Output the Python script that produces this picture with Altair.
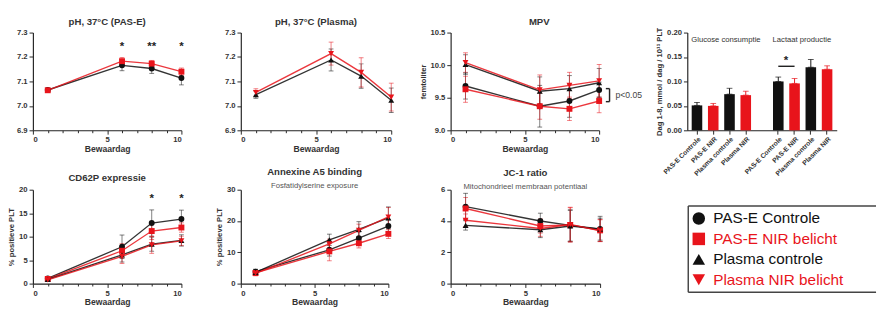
import altair as alt
import pandas as pd

FONT = "Liberation Sans"
RED = "#e8141b"
BLACK = "#111111"

days = [1, 6, 8, 10]
series = ["PAS-E Controle", "PAS-E NIR belicht", "Plasma controle", "Plasma NIR belicht"]
series_colors = [BLACK, RED, BLACK, RED]
series_shapes = ["circle", "square", "triangle-up", "triangle-down"]

# pH 37C PAS-E
ph_pase_val = {"PAS-E Controle": [7.065, 7.166, 7.153, 7.114],
               "PAS-E NIR belicht": [7.064, 7.183, 7.173, 7.140]}
ph_pase_err = {"PAS-E Controle": [0.005, 0.022, 0.020, 0.028],
               "PAS-E NIR belicht": [0.004, 0.015, 0.013, 0.015]}
ph_pase_stars_days = [6, 8, 10]
ph_pase_stars = ["*", "**", "*"]

# pH 37C Plasma
ph_plasma_val = {"Plasma controle": [7.046, 7.188, 7.122, 7.023],
                 "Plasma NIR belicht": [7.055, 7.214, 7.137, 7.036]}
ph_plasma_err = {"Plasma controle": [0.015, 0.045, 0.050, 0.050],
                 "Plasma NIR belicht": [0.015, 0.047, 0.060, 0.057]}

# MPV
mpv_val = {"PAS-E Controle": [9.68, 9.37, 9.45, 9.62],
           "PAS-E NIR belicht": [9.63, 9.37, 9.33, 9.45],
           "Plasma controle": [10.01, 9.60, 9.64, 9.73],
           "Plasma NIR belicht": [10.04, 9.62, 9.69, 9.76]}
mpv_err = {"PAS-E Controle": [0.20, 0.32, 0.25, 0.12],
           "PAS-E NIR belicht": [0.20, 0.20, 0.18, 0.18],
           "Plasma controle": [0.15, 0.22, 0.20, 0.22],
           "Plasma NIR belicht": [0.15, 0.23, 0.20, 0.25]}
mpv_sig_range = [9.44, 9.64]
mpv_sig_text = "p<0.05"

# CD62P
cd62p_val = {"PAS-E Controle": [1.1, 7.85, 12.9, 13.75],
             "PAS-E NIR belicht": [1.0, 7.0, 11.2, 11.95],
             "Plasma controle": [0.9, 6.1, 8.4, 9.2],
             "Plasma NIR belicht": [0.8, 5.8, 8.25, 9.1]}
cd62p_err = {"PAS-E Controle": [0.3, 2.5, 2.8, 1.9],
             "PAS-E NIR belicht": [0.3, 1.5, 1.8, 1.0],
             "Plasma controle": [0.3, 1.5, 1.5, 1.2],
             "Plasma NIR belicht": [0.3, 1.5, 1.8, 1.0]}
cd62p_stars_days = [8, 10]
cd62p_stars = ["*", "*"]

# Annexine A5
anx_val = {"PAS-E Controle": [3.8, 10.8, 14.5, 18.4],
           "PAS-E NIR belicht": [3.4, 10.3, 12.9, 15.9],
           "Plasma controle": [3.6, 14.0, 17.3, 21.0],
           "Plasma NIR belicht": [3.3, 12.7, 17.0, 21.3]}
anx_err = {"PAS-E Controle": [0.8, 2.0, 2.0, 2.0],
           "PAS-E NIR belicht": [0.8, 3.0, 1.5, 1.5],
           "Plasma controle": [0.8, 1.8, 2.5, 3.5],
           "Plasma NIR belicht": [0.8, 1.5, 2.0, 3.0]}

# JC-1
jc1_val = {"PAS-E Controle": [4.92, 4.0, 3.72, 3.5],
           "PAS-E NIR belicht": [4.8, 3.68, 3.75, 3.4],
           "Plasma controle": [3.72, 3.44, 3.68, 3.48],
           "Plasma NIR belicht": [4.05, 3.52, 3.78, 3.38]}
jc1_err = {"PAS-E Controle": [0.85, 0.5, 1.0, 0.8],
           "PAS-E NIR belicht": [0.7, 0.45, 1.1, 0.7],
           "Plasma controle": [0.3, 0.5, 1.0, 0.7],
           "Plasma NIR belicht": [0.4, 0.5, 1.1, 0.7]}

# Bars: glucose consumption / lactate production
bar_labels = ["PAS-E Controle", "PAS-E NIR", "Plasma controle", "Plasma NIR"]
bar_treat = ["controle", "NIR", "controle", "NIR"]
glucose_val = [0.051, 0.050, 0.074, 0.072]
glucose_err = [0.006, 0.005, 0.012, 0.008]
lactate_val = [0.100, 0.096, 0.129, 0.125]
lactate_err = [0.009, 0.010, 0.016, 0.007]
group_names = ["Glucose consumptie", "Lactaat productie"]
bar_sig_y = 0.131


def frame(vals, errs):
    rows = []
    for s in vals:
        for d, v, e in zip(days, vals[s], errs[s]):
            rows.append({"series": s, "day": d, "value": v, "lo": v - e, "hi": v + e})
    return pd.DataFrame(rows)


color_enc = alt.Color("series:N", scale=alt.Scale(domain=series, range=series_colors), legend=None)
shape_enc = alt.Shape("series:N", scale=alt.Scale(domain=series, range=series_shapes), legend=None)


def line_panel(df, title, ydom, yvals, yfmt, ytitle, w, h, xrange=None, extras=()):
    sc = dict(domain=[0, 10], nice=False, zero=False)
    if xrange is not None:
        sc["range"] = xrange
    xaxis = alt.Axis(values=list(range(11)), tickCount=11,
                     labelExpr="datum.value % 5 == 0 ? datum.label : ''",
                     tickSize={"condition": {"test": "datum.value % 5 == 0", "value": 4}, "value": 2.5},
                     title="Bewaardag", labelOverlap=False)

    def X(field="day"):
        return alt.X(f"{field}:Q", scale=alt.Scale(**sc), axis=xaxis)

    yaxis = alt.Axis(values=yvals, tickCount=len(yvals), format=yfmt, title=ytitle,
                     labelOverlap=False, labelSeparation=0)
    ysc = alt.Scale(domain=ydom, nice=False, zero=False)

    base = alt.Chart(df)
    err = base.mark_errorbar(ticks={"size": 5}, opacity=0.55, thickness=1).encode(
        x=X(), y=alt.Y("lo:Q", scale=ysc, axis=yaxis), y2="hi:Q", color=color_enc)
    line = base.mark_line(strokeWidth=1.4, opacity=0.85).encode(
        x=X(), y=alt.Y("value:Q", scale=ysc, axis=yaxis), color=color_enc, detail="series:N")
    pts = base.mark_point(filled=True, size=38, opacity=1).encode(
        x=X(), y=alt.Y("value:Q", scale=ysc, axis=yaxis), color=color_enc, shape=shape_enc)
    layers = [err, line, pts] + [f(X, ysc, yaxis) for f in extras]
    return alt.layer(*layers).properties(width=w, height=h, title=title)


def stars_layer(sdays, stars, yv):
    def f(X, ysc, yaxis):
        sdf = pd.DataFrame({"day": sdays, "txt": stars})
        return alt.Chart(sdf).mark_text(fontSize=12, fontWeight="bold", color="#222").encode(
            x=X(), y=alt.datum(yv), text="txt:N")
    return f


def mpv_bracket(X, ysc, yaxis):
    lo, hi = mpv_sig_range
    bdf = pd.DataFrame({"day": [10.7, 10.45, 10.45], "d2": [10.7, 10.7, 10.7],
                        "y": [lo, hi, lo], "y2": [hi, hi, lo]})
    rules = alt.Chart(bdf).mark_rule(color="#222", strokeWidth=1.5).encode(
        x=X(), x2="d2:Q", y=alt.Y("y:Q", scale=ysc, axis=yaxis), y2="y2:Q")
    tdf = pd.DataFrame({"day": [11.1], "y": [(lo + hi) / 2], "txt": [mpv_sig_text]})
    txt = alt.Chart(tdf).mark_text(align="left", fontSize=9, color="#444").encode(
        x=X(), y=alt.Y("y:Q", scale=ysc, axis=yaxis), text="txt:N")
    return alt.layer(rules, txt)


def T(t, off, sub=None):
    if sub:
        return alt.Title(t, subtitle=sub, offset=off, anchor="middle")
    return alt.Title(t, offset=off, anchor="middle")


TOP_H = 102
BOT_H = 98

p1 = line_panel(frame(ph_pase_val, ph_pase_err), T("pH, 37°C (PAS-E)", 2),
                [6.9, 7.3], [6.9, 7.0, 7.1, 7.2, 7.3], ".1f", None, 155, TOP_H,
                extras=[stars_layer(ph_pase_stars_days, ph_pase_stars, 7.245)])
p2 = line_panel(frame(ph_plasma_val, ph_plasma_err), T("pH, 37°C (Plasma)", 2),
                [6.9, 7.3], [6.9, 7.0, 7.1, 7.2, 7.3], ".1f", None, 157, TOP_H)
p3 = line_panel(frame(mpv_val, mpv_err), T("MPV", 2),
                [9.0, 10.5], [9.0, 9.5, 10.0, 10.5], ".1f", "femtoliter", 185, TOP_H,
                xrange=[0, 155], extras=[mpv_bracket])

# Bar chart
bar_rows = []
for gi, (g, vals, errs) in enumerate([(group_names[0], glucose_val, glucose_err),
                                     (group_names[1], lactate_val, lactate_err)]):
    for lab, tr, v, e in zip(bar_labels, bar_treat, vals, errs):
        bar_rows.append({"key": ("G:" if gi == 0 else "L:") + lab, "group": g,
                         "treat": tr, "value": v, "hi": v + e})
bdf = pd.DataFrame(bar_rows)
bar_keys = list(bdf["key"])
bar_domain = bar_keys[:4] + ["gap"] + bar_keys[4:]

bx_axis = alt.Axis(values=bar_keys, labelExpr="slice(datum.value, 2)", labelAngle=-45,
                   title=None, labelFontSize=7, labelPadding=1)
bx_scale = alt.Scale(domain=bar_domain, paddingInner=0.35, paddingOuter=0.27)
by_scale = alt.Scale(domain=[0, 0.2], nice=False)
by_vals = [0, 0.05, 0.10, 0.15, 0.20]
by_axis = alt.Axis(values=by_vals, tickCount=len(by_vals), format=".2f", labelOverlap=False,
                   labelSeparation=0, title="Dag 1-8, mmol / dag / 10¹¹ PLT")
bcolor = alt.Color("treat:N", scale=alt.Scale(domain=["controle", "NIR"], range=[BLACK, RED]), legend=None)

bar_base = alt.Chart(bdf)
b_err = bar_base.mark_errorbar(ticks={"size": 6}, thickness=1).encode(
    x=alt.X("key:N", scale=bx_scale, axis=bx_axis),
    y=alt.Y("value:Q", scale=by_scale, axis=by_axis), y2="hi:Q", color=bcolor)
b_bar = bar_base.mark_bar().encode(
    x=alt.X("key:N", scale=bx_scale, axis=bx_axis),
    y=alt.Y("value:Q", scale=by_scale, axis=by_axis), color=bcolor)
gdf = pd.DataFrame({"key": [bar_keys[0], bar_keys[4]], "txt": group_names})
b_grp = alt.Chart(gdf).mark_text(align="left", dx=-6, fontSize=8, fill="#333333").encode(
    x=alt.X("key:N", scale=bx_scale, axis=bx_axis), y=alt.datum(0.184), text="txt:N")
sdf = pd.DataFrame({"key": [bar_keys[4]], "key2": [bar_keys[5]], "y": [bar_sig_y]})
b_sig = alt.Chart(sdf).mark_rule(color="#222", strokeWidth=1.5).encode(
    x=alt.X("key:N", scale=bx_scale, axis=bx_axis), x2="key2:N",
    y=alt.Y("y:Q", scale=by_scale, axis=by_axis))
b_star = alt.Chart(sdf).mark_text(fontSize=12, fontWeight="bold", dx=8, dy=-6, color="#222").encode(
    x=alt.X("key:N", scale=bx_scale, axis=bx_axis),
    y=alt.Y("y:Q", scale=by_scale, axis=by_axis), text=alt.value("*"))
p4 = alt.layer(b_err, b_bar, b_grp, b_sig, b_star).properties(width=156, height=TOP_H)

p5 = line_panel(frame(cd62p_val, cd62p_err), T("CD62P expressie", 3),
                [0, 20], [0, 5, 10, 15, 20], "d", "% positieve PLT", 155, BOT_H,
                extras=[stars_layer(cd62p_stars_days, cd62p_stars, 18.3)])
p6 = line_panel(frame(anx_val, anx_err), T("Annexine A5 binding", -4, "Fosfatidylserine exposure"),
                [0, 30], [0, 10, 20, 30], "d", "% positieve PLT", 154, BOT_H)
p7 = line_panel(frame(jc1_val, jc1_err), T("JC-1 ratio", -5, "Mitochondrieel membraan potentiaal"),
                [0, 6], [0, 2, 4, 6], "d", None, 156, BOT_H)

# Legend panel
ldf = pd.DataFrame({"series": series})
ly = alt.Y("series:N", scale=alt.Scale(type="point", domain=series, range=[30, 94], padding=0), axis=None)
box_df = pd.DataFrame({"side": ["top"]})
l_top = alt.Chart(box_df).mark_rule(color="#444", strokeWidth=1.5).encode(
    x=alt.value(1), x2=alt.value(197), y=alt.value(17))
l_bot = alt.Chart(box_df).mark_rule(color="#444", strokeWidth=1.5).encode(
    x=alt.value(1), x2=alt.value(197), y=alt.value(107))
l_left = alt.Chart(box_df).mark_rule(color="#444", strokeWidth=1.5).encode(
    x=alt.value(1), y=alt.value(17), y2=alt.value(107))
l_sym = alt.Chart(ldf).mark_point(filled=True, size=170, opacity=1).encode(
    x=alt.value(12), y=ly, color=color_enc, shape=shape_enc)
l_txt = alt.Chart(ldf).mark_text(align="left", baseline="middle", fontSize=16).encode(
    x=alt.value(27), y=ly, text="series:N", color=color_enc)
p8 = alt.layer(l_top, l_bot, l_left, l_sym, l_txt).properties(width=197, height=BOT_H)

chart = alt.concat(p1, p2, p3, p4, p5, p6, p7, p8, columns=4,
                   spacing={"row": 62, "column": 62}, bounds="flush", align="none").properties(
    padding={"left": 0, "top": 3, "right": 0, "bottom": 0}
).configure(font=FONT).configure_view(stroke=None).configure_axis(
    grid=False, domainColor="#222", tickColor="#222", labelColor="#333", titleColor="#333",
    labelFont=FONT, titleFont=FONT, labelFontSize=8, labelFontWeight="bold",
    titleFontSize=9, titleFontWeight="bold", tickSize=4, labelPadding=2, titlePadding=1,
    domainWidth=1.2, labelOverlap=False
).configure_axisY(titleFontSize=8, titlePadding=3).configure_title(
    font=FONT, fontSize=10, fontWeight="bold", color="#333",
    subtitleFont=FONT, subtitleFontSize=8, subtitleColor="#555", subtitlePadding=5
)

chart.save("out.html", embed_options={"renderer": "svg", "actions": False})
